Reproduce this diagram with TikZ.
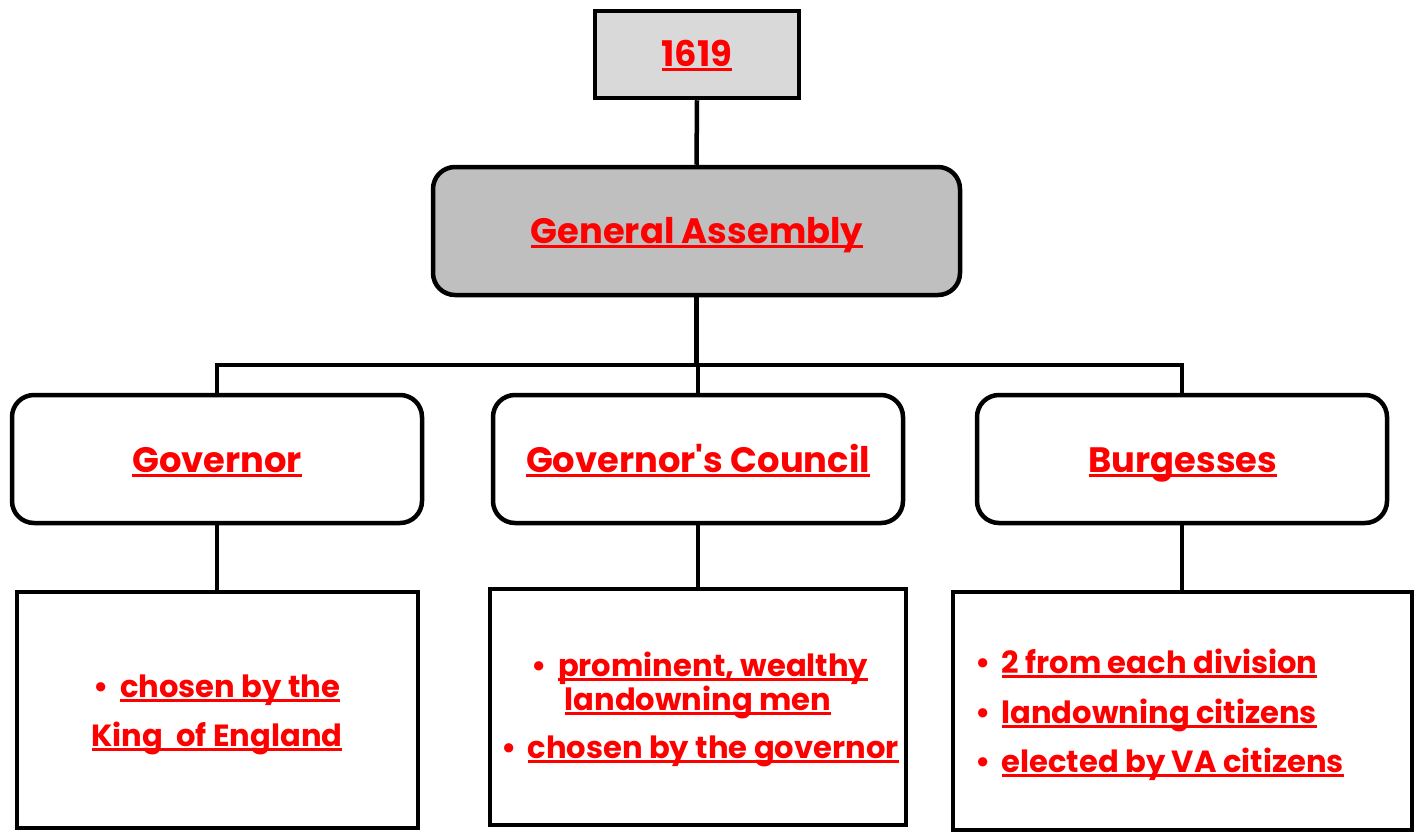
\documentclass[tikz,border=0pt]{standalone}
\usepackage{fontspec}
\setmainfont{Poppins}[BoldFont={* Bold}]
\definecolor{tred}{HTML}{FF0000}
\definecolor{gbox}{HTML}{BFBFBF}
\definecolor{ybox}{HTML}{D9D9D9}
\newcommand\ulr[1]{\setbox0\hbox{#1}\rlap{\rule[-5pt]{\wd0}{2.8pt}}\box0}
\begin{document}
\begin{tikzpicture}[x=1pt,y=-1pt,
  box/.style={draw=black,line width=4.5pt,inner sep=0pt},
  rbox/.style={box,rounded corners=22pt,fill=white},
  big/.style={text=tred,font=\bfseries\fontsize{35.3}{40}\selectfont,inner sep=0pt},
  small/.style={text=tred,font=\bfseries\fontsize{30.6}{34}\selectfont,inner sep=0pt},
  conn/.style={line width=4.5pt}]
\useasboundingbox (0,0) rectangle (1422,833);
\fill[white] (0,0) rectangle (1422,833);
% boxes
\node[box,fill=ybox,minimum width=204pt,minimum height=87pt] (y1619) at (697,54.5) {};
\node[rbox,fill=gbox,minimum width=527pt,minimum height=128pt] (ga) at (696.5,231) {};
\node[rbox,minimum width=410pt,minimum height=128pt] (gov) at (217,459) {};
\node[rbox,minimum width=410pt,minimum height=128pt] (cou) at (698,459) {};
\node[rbox,minimum width=410pt,minimum height=128pt] (bur) at (1182,459) {};
\node[box,fill=white,minimum width=401pt,minimum height=236pt] (govd) at (217.5,710) {};
\node[box,fill=white,minimum width=416pt,minimum height=236pt] (coud) at (698,707) {};
\node[box,fill=white,minimum width=459pt,minimum height=238pt] (burd) at (1182.5,711) {};
% connectors
\coordinate (bar) at (697,365);
\draw[conn] (y1619.south) -- (ga.north);
\draw[conn] (ga.south) -- (ga.south |- bar);
\draw[conn] (gov.north) |- (bar) -| (bur.north);
\draw[conn] (cou.north |- bar) -- (cou.north);
\draw[conn] (gov.south) -- (gov.south |- govd.north);
\draw[conn] (cou.south) -- (cou.south |- coud.north);
\draw[conn] (bur.south) -- (bur.south |- burd.north);
% titles
\node[big,anchor=base] (t1619) at (697,66) {\ulr{1619}};
\node[big,anchor=base] (tga) at (697,243) {\ulr{General Assembly}};
\node[big,anchor=base] (tgov) at (217,472) {\ulr{Governor}};
\node[big,anchor=base] (tcou) at (698,472) {\ulr{Governor\textquotesingle s Council}};
\node[big,anchor=base] (tbur) at (1183,472) {\ulr{Burgesses}};
% Governor details
\node[small,anchor=base] (g1) at (217,697) {•\hspace{11pt}\ulr{chosen by the}};
\node[small,anchor=base] (g2) at (217,746) {\ulr{King\ \ of England}};
% Council details
\node[small,anchor=base] (c1) at (700,676) {•\hspace{11pt}\ulr{prominent, wealthy}};
\node[small,anchor=base] (c2) at (698,710) {\ulr{landowning men}};
\node[small,anchor=base] (c3) at (700,758) {•\hspace{11pt}\ulr{chosen by the governor}};
% Burgesses details
\node[small,anchor=base west] (b1) at (975,673) {•\hspace{11pt}\ulr{2 from each division}};
\node[small,anchor=base west] (b2) at (975,723) {•\hspace{11pt}\ulr{landowning citizens}};
\node[small,anchor=base west] (b3) at (975,772) {•\hspace{11pt}\ulr{elected by VA citizens}};
\end{tikzpicture}
\end{document}
